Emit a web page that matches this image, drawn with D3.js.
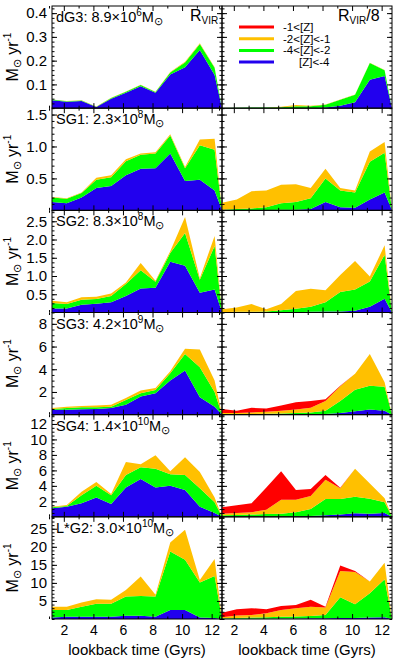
<!DOCTYPE html>
<html>
<head>
<meta charset="utf-8">
<script src="https://cdn.jsdelivr.net/npm/d3@7"></script>
<style>
  body { margin: 0; background: #fff; }
  text { font-family: "Liberation Sans", Arial, sans-serif; fill: #000; }
</style>
</head>
<body>
<svg id="chart"></svg>
<script>
// lookback time of each bin (Gyrs)
const times = [1.2, 2.2, 3.2, 4.2, 5.2, 6.2, 7.2, 8.2, 9.2, 10.2, 11.2, 12.2, 12.7];

// cumulative SFR below each metallicity cut: [Z]<-4, [Z]<-2, [Z]<-1, all
const dG3_vir = [
  [.033, .027, .030, .005, .040, .065, .092, .065, .142, .172, .245, .140, 0],
  [.036, .029, .032, .006, .043, .069, .097, .068, .150, .192, .270, .170, 0],
  [.037, .030, .033, .007, .044, .070, .099, .069, .152, .195, .273, .172, 0],
  [.037, .030, .033, .007, .044, .070, .099, .069, .152, .195, .273, .172, 0]
];
const dG3_vir8 = [
  [0, 0, 0, 0, 0, 0, 0, .003, .010, .025, .120, .135, 0],
  [.001, .002, .003, .003, .004, .008, .008, .014, .035, .056, .190, .160, 0],
  [.001, .002, .003, .003, .006, .013, .010, .015, .036, .057, .191, .161, 0],
  [.001, .002, .003, .003, .006, .013, .010, .015, .036, .057, .191, .161, 0]
];
const SG1_vir = [
  [.13, .11, .20, .35, .38, .55, .65, .66, .89, .46, .48, .31, 0],
  [.20, .18, .27, .48, .52, .77, .87, .89, 1.17, .66, 1.02, .95, 0],
  [.21, .19, .28, .51, .55, .80, .89, .91, 1.19, .68, 1.11, 1.12, 0],
  [.21, .19, .28, .51, .55, .80, .89, .91, 1.19, .68, 1.11, 1.12, 0]
];
const SG1_vir8 = [
  [0, 0, .005, .005, .01, .01, .02, .13, .05, .04, .17, .28, 0],
  [.01, .02, .03, .05, .11, .13, .19, .50, .31, .28, .76, .90, 0],
  [.12, .17, .30, .31, .40, .41, .35, .65, .35, .31, .92, 1.07, 0],
  [.12, .17, .30, .31, .40, .41, .35, .65, .35, .31, .92, 1.07, 0]
];
const SG2_vir = [
  [.11, .11, .21, .24, .28, .45, .66, .68, 1.39, 1.28, .54, .63, 0],
  [.26, .23, .35, .37, .45, .78, 1.16, .84, 1.63, 2.18, .90, 1.82, 0],
  [.32, .28, .42, .43, .52, .82, 1.36, .87, 1.68, 2.62, .94, 2.10, 0],
  [.32, .28, .42, .43, .52, .82, 1.36, .87, 1.68, 2.62, .94, 2.10, 0]
];
const SG2_vir8 = [
  [0, 0, 0, 0, 0, .01, .02, .03, .03, .05, .16, .38, 0],
  [.01, .02, .02, .03, .06, .10, .16, .28, .56, .63, .85, 1.58, 0],
  [.09, .14, .23, .09, .23, .59, .65, .61, 1.03, 1.41, .99, 1.84, 0],
  [.09, .14, .23, .09, .23, .59, .65, .61, 1.03, 1.41, .99, 1.84, 0]
];
const SG3_vir = [
  [.44, .44, .47, .50, .59, .88, 1.59, 1.88, 3.0, 3.88, 1.53, .70, 0],
  [.50, .59, .65, .65, .70, 1.30, 1.88, 2.18, 3.65, 5.35, 4.17, 2.0, 0],
  [.59, .70, .77, .80, .88, 1.47, 2.12, 2.35, 3.82, 5.80, 5.74, 3.0, 0],
  [.59, .70, .77, .80, .88, 1.47, 2.12, 2.35, 3.82, 5.80, 5.74, 3.0, 0]
];
const SG3_vir8 = [
  [.02, .02, .02, .02, .03, .03, .04, .06, .15, .30, .45, .35, 0],
  [.05, .05, .06, .08, .10, .15, .20, .35, 1.2, 2.2, 2.55, 2.45, 0],
  [.15, .15, .20, .25, .35, .45, .60, 1.2, 2.5, 3.6, 5.35, 2.85, 0],
  [.50, .35, .60, .55, .80, 1.1, 1.2, 1.35, 2.55, 3.6, 5.35, 2.85, 0]
];
const SG4_vir = [
  [1.1, 1.3, 1.75, 2.5, 1.67, 3.8, 4.9, 3.8, 4.0, 3.46, 1.3, .5, 0],
  [1.24, 1.4, 2.8, 4.0, 2.8, 5.4, 6.4, 6.2, 5.5, 5.4, 3.7, 1.9, 0],
  [1.3, 1.54, 3.25, 4.5, 2.95, 7.1, 6.8, 7.95, 5.9, 7.7, 5.8, 2.5, 0],
  [1.3, 1.54, 3.25, 4.5, 2.95, 7.1, 6.8, 7.95, 5.9, 7.7, 5.8, 2.5, 0]
];
const SG4_vir8 = [
  [.05, .05, .05, .05, .05, .08, .1, .2, .3, .45, .4, .5, 0],
  [.2, .25, .3, .35, .4, .6, 1.0, 2.3, 2.3, 2.6, 2.35, 1.9, 0],
  [.4, .5, .6, .9, 2.2, 2.2, 2.7, 4.8, 3.7, 6.2, 4.3, 2.4, 0],
  [1.24, 1.5, 1.75, 3.8, 5.9, 3.46, 3.6, 5.4, 3.75, 6.2, 4.3, 2.4, 0]
];
const LG2_vir = [
  [.4, .6, .65, .65, .65, .9, .9, .65, 2.5, 2.5, .4, .3, 0],
  [2.5, 2.5, 3.4, 4.2, 4.2, 6.2, 6.4, 6.2, 18.7, 16.4, 10.1, 11.9, 0],
  [3.4, 3.4, 4.6, 5.5, 5.3, 8.0, 11.75, 6.7, 21.2, 24.7, 10.8, 16.6, 0],
  [3.4, 3.4, 4.6, 5.5, 5.3, 8.0, 11.75, 6.7, 21.2, 24.7, 10.8, 16.6, 0]
];
const LG2_vir8 = [
  [.1, .1, .1, .1, .15, .15, .2, .2, .3, .3, .4, .5, 0],
  [.2, .3, .4, .5, .6, .7, .8, 1.1, 6.0, 4.1, 7.1, 11.0, 0],
  [.5, 1.0, 1.1, 1.57, 2.5, 3.0, 3.4, 3.2, 13.3, 13.0, 10.4, 15.6, 0],
  [1.76, 2.7, 3.0, 2.7, 3.6, 3.9, 5.3, 3.4, 14.8, 13.3, 10.4, 15.6, 0]
];

// one row per galaxy
const galaxies = ['dG3', 'SG1', 'SG2', 'SG3', 'SG4', 'L*G2'];
const masses = [['8.9', '6'], ['2.3', '8'], ['8.3', '8'], ['4.2', '9'], ['1.4', '10'], ['3.0', '10']];
const yMax = [0.43, 1.6, 2.8, 9, 13.2, 28.3];
const yTicks = [[0.1, 0.2, 0.3, 0.4], [0.5, 1.0, 1.5], [0.5, 1.0, 1.5, 2.0, 2.5], [2, 4, 6, 8], [2, 4, 6, 8, 10, 12], [5, 10, 15, 20, 25]];
const yMinorStep = [0.02, 0.1, 0.125, 0.5, 0.5, 1];
const yFormat = ['.1f', '.1f', '.1f', 'd', 'd', 'd'];
const virData = [dG3_vir, SG1_vir, SG2_vir, SG3_vir, SG4_vir, LG2_vir];
const vir8Data = [dG3_vir8, SG1_vir8, SG2_vir8, SG3_vir8, SG4_vir8, LG2_vir8];

const xTicks = [2, 4, 6, 8, 10, 12];
const xMinor = [1, 3, 5, 7, 9, 11];
const legendLabels = ['-1<[Z]', '-2<[Z]<-1', '-4<[Z]<-2', '[Z]<-4'];
const colors = ['#2200ee', '#00ff00', '#ffc000', '#ff0000']; // blue, green, orange, red

const width = 395, height = 659;
const colLeft = [52, 222], colW = 170;
const plotTop = 6, plotBottom = 619;
const rowH = (plotBottom - plotTop) / galaxies.length;
const font = '"Liberation Sans", Arial, sans-serif';

const svg = d3.select('#chart')
  .attr('width', width)
  .attr('height', height)
  .attr('viewBox', [0, 0, width, height]);

const x = d3.scaleLinear().domain([1.2, 12.7]);

galaxies.forEach((g, row) => {
  const y0 = plotTop + row * rowH;
  const y = d3.scaleLinear().domain([0, yMax[row]]).range([y0 + rowH, y0]);
  const minor = d3.range(0, yMax[row], yMinorStep[row]);

  [virData[row], vir8Data[row]].forEach((levels, col) => {
    const xs = x.copy().range([colLeft[col], colLeft[col] + colW]);
    const panel = svg.append('g');

    // filled bands, from the lowest metallicity up
    levels.forEach((lev, k) => {
      const area = d3.area()
        .x((d, i) => xs(times[i]))
        .y0((d, i) => y(k === 0 ? 0 : levels[k - 1][i]))
        .y1(d => y(d));
      panel.append('path')
        .datum(lev)
        .attr('fill', colors[k])
        .attr('d', area);
    });

    // frame
    panel.append('rect')
      .attr('x', xs.range()[0]).attr('y', y0)
      .attr('width', colW).attr('height', rowH)
      .attr('fill', 'none').attr('stroke', '#000').attr('stroke-width', 1);

    // y ticks, inward on both sides
    const yl = d3.axisLeft(y).tickValues(yTicks[row]).tickSizeInner(-5).tickSizeOuter(0).tickPadding(5)
      .tickFormat(col === 0 ? d3.format(yFormat[row]) : '');
    const ylm = d3.axisLeft(y).tickValues(minor).tickSizeInner(-2.5).tickSizeOuter(0).tickFormat('');
    const yr = d3.axisRight(y).tickValues(yTicks[row]).tickSizeInner(-5).tickSizeOuter(0).tickFormat('');
    const yrm = d3.axisRight(y).tickValues(minor).tickSizeInner(-2.5).tickSizeOuter(0).tickFormat('');
    [[yl, xs.range()[0]], [ylm, xs.range()[0]], [yr, xs.range()[1]], [yrm, xs.range()[1]]].forEach(([ax, tx]) => {
      panel.append('g').attr('transform', `translate(${tx},0)`).call(ax)
        .call(s => s.select('.domain').remove())
        .call(s => s.selectAll('text').attr('font-size', 15).attr('font-family', font));
    });

    // x ticks, inward top and bottom
    const xb = d3.axisBottom(xs).tickValues(xTicks).tickSizeInner(-5).tickSizeOuter(0).tickPadding(6)
      .tickFormat(row === galaxies.length - 1 ? d3.format('d') : '');
    const xbm = d3.axisBottom(xs).tickValues(xMinor).tickSizeInner(-2.5).tickSizeOuter(0).tickFormat('');
    const xt = d3.axisTop(xs).tickValues(xTicks).tickSizeInner(-5).tickSizeOuter(0).tickFormat('');
    const xtm = d3.axisTop(xs).tickValues(xMinor).tickSizeInner(-2.5).tickSizeOuter(0).tickFormat('');
    [[xb, y0 + rowH], [xbm, y0 + rowH], [xt, y0], [xtm, y0]].forEach(([ax, ty]) => {
      panel.append('g').attr('transform', `translate(0,${ty})`).call(ax)
        .call(s => s.select('.domain').remove())
        .call(s => s.selectAll('text').attr('font-size', 14).attr('font-family', font));
    });
  });

  // galaxy name and mass
  const lab = svg.append('text').attr('x', 56).attr('y', y0 + 16).attr('font-size', 14.5);
  lab.append('tspan').text(`${g}: ${masses[row][0]}×10`);
  lab.append('tspan').attr('font-size', 10).attr('dy', -6).text(masses[row][1]);
  lab.append('tspan').attr('dy', 6).text('M');
  lab.append('tspan').attr('font-size', 11).attr('dy', 3).text('⊙');

  // y title
  const yt = svg.append('text')
    .attr('transform', `translate(18,${y0 + rowH / 2}) rotate(-90)`)
    .attr('text-anchor', 'middle').attr('font-size', 16);
  yt.append('tspan').text('M');
  yt.append('tspan').attr('font-size', 11).attr('dy', 3).text('⊙');
  yt.append('tspan').attr('dy', -3).text(' yr');
  yt.append('tspan').attr('font-size', 10).attr('dy', -7).text('-1');
});

// column titles
const r1 = svg.append('text').attr('x', 190).attr('y', 21).attr('font-size', 16);
r1.append('tspan').text('R');
r1.append('tspan').attr('font-size', 10).attr('dy', 3).text('VIR');
const r2 = svg.append('text').attr('x', 338).attr('y', 21).attr('font-size', 16);
r2.append('tspan').text('R');
r2.append('tspan').attr('font-size', 10).attr('dy', 3).text('VIR');
r2.append('tspan').attr('dy', -3).text('/8');

// legend, red at top
const legend = svg.append('g');
legendLabels.forEach((t, i) => {
  const ly = 27 + i * 11.7;
  legend.append('line')
    .attr('x1', 239).attr('x2', 274).attr('y1', ly).attr('y2', ly)
    .attr('stroke', colors[3 - i]).attr('stroke-width', 3);
  legend.append('text')
    .attr('x', i === 3 ? 299 : 283).attr('y', ly + 4)
    .attr('font-size', 11.5).text(t);
});

// x titles
colLeft.forEach(cx => {
  svg.append('text')
    .attr('x', cx + colW / 2).attr('y', 655)
    .attr('text-anchor', 'middle').attr('font-size', 15)
    .text('lookback time (Gyrs)');
});
</script>
</body>
</html>
